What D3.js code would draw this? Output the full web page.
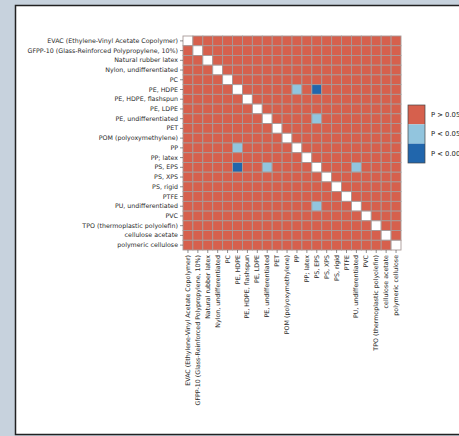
<!DOCTYPE html>
<html>
<head>
<meta charset="utf-8">
<script src="https://cdn.jsdelivr.net/npm/d3@7"></script>
<style>
  html, body { margin: 0; padding: 0; background: #c7d2dd; }
  svg { display: block; }
  text { font-family: "DejaVu Sans", sans-serif; }
</style>
</head>
<body>
<svg id="chart" width="459" height="436"></svg>
<script>
// Materials compared pairwise
const categories = [
  "EVAC (Ethylene-Vinyl Acetate Copolymer)",
  "GFPP-10 (Glass-Reinforced Polypropylene, 10%)",
  "Natural rubber latex",
  "Nylon, undifferentiated",
  "PC",
  "PE, HDPE",
  "PE, HDPE, flashspun",
  "PE, LDPE",
  "PE, undifferentiated",
  "PET",
  "POM (polyoxymethylene)",
  "PP",
  "PP; latex",
  "PS, EPS",
  "PS, XPS",
  "PS, rigid",
  "PTFE",
  "PU, undifferentiated",
  "PVC",
  "TPO (thermoplastic polyolefin)",
  "cellulose acetate",
  "polymeric cellulose"
];

// Significance classes shown in the legend
const levels = ["P > 0.05", "P < 0.05", "P < 0.001"];
const levelColors = ["#d6604d", "#92c5de", "#2166ac"];

// Pairs that differ significantly: [material A, material B, level index]
const significantPairs = [
  ["PE, HDPE", "PP", 1],
  ["PE, HDPE", "PS, EPS", 2],
  ["PE, undifferentiated", "PS, EPS", 1],
  ["PS, EPS", "PU, undifferentiated", 1]
];

const svg = d3.select("#chart");

// Figure panel
svg.append("rect")
  .attr("x", 15.5).attr("y", 5.5)
  .attr("width", 470).attr("height", 429)
  .attr("fill", "#ffffff")
  .attr("stroke", "#222").attr("stroke-width", 1.5);

const x = d3.scaleBand().domain(categories).range([183, 401]).padding(0);
const y = d3.scaleBand().domain(categories).range([36, 250]).padding(0);

// Build the symmetric level matrix
const levelOf = new Map();
significantPairs.forEach(([a, b, l]) => {
  levelOf.set(a + "|" + b, l);
  levelOf.set(b + "|" + a, l);
});
const cells = [];
categories.forEach(r => categories.forEach(c => {
  cells.push({ row: r, col: c, diag: r === c, level: levelOf.get(r + "|" + c) || 0 });
}));

svg.append("g").selectAll("rect")
  .data(cells)
  .join("rect")
  .attr("x", d => x(d.col))
  .attr("y", d => y(d.row))
  .attr("width", x.bandwidth())
  .attr("height", y.bandwidth())
  .attr("fill", d => d.diag ? "#ffffff" : levelColors[d.level])
  .attr("stroke", "#a89a98")
  .attr("stroke-width", 0.9);

// Axes
const yAxis = d3.axisLeft(y).tickSize(3).tickPadding(2);
const gy = svg.append("g").attr("transform", "translate(183,0)").call(yAxis);
gy.select(".domain").remove();
gy.selectAll("text").attr("font-size", 6.3).attr("fill", "#2a2a2a").style("font-family", "DejaVu Sans, sans-serif");
gy.selectAll("line").attr("stroke", "#444").attr("stroke-width", 0.6);

const xAxis = d3.axisBottom(x).tickSize(3).tickPadding(2);
const gx = svg.append("g").attr("transform", "translate(0,250)").call(xAxis);
gx.select(".domain").remove();
gx.selectAll("line").attr("stroke", "#444").attr("stroke-width", 0.6);
gx.selectAll("text")
  .attr("font-size", 6.3).attr("fill", "#2a2a2a").style("font-family", "DejaVu Sans, sans-serif")
  .attr("text-anchor", "end")
  .attr("dy", "0.32em")
  .attr("transform", "translate(0,5) rotate(-90)")
  .attr("x", 0).attr("y", 0);

// Legend
const legendY = d3.scaleBand().domain(levels).range([105, 163]).padding(0);
const lg = svg.append("g");
lg.selectAll("rect")
  .data(levels)
  .join("rect")
  .attr("x", 408).attr("y", d => legendY(d))
  .attr("width", 17).attr("height", legendY.bandwidth())
  .attr("fill", (d, i) => levelColors[i]);
lg.append("rect")
  .attr("x", 408).attr("y", 105).attr("width", 17).attr("height", 58)
  .attr("fill", "none").attr("stroke", "#444").attr("stroke-width", 0.7);
lg.selectAll("text")
  .data(levels)
  .join("text")
  .attr("x", 431)
  .attr("y", d => legendY(d) + legendY.bandwidth() / 2)
  .attr("dy", "0.35em")
  .attr("font-size", 6.8)
  .attr("fill", "#222")
  .text(d => d);
</script>
</body>
</html>
